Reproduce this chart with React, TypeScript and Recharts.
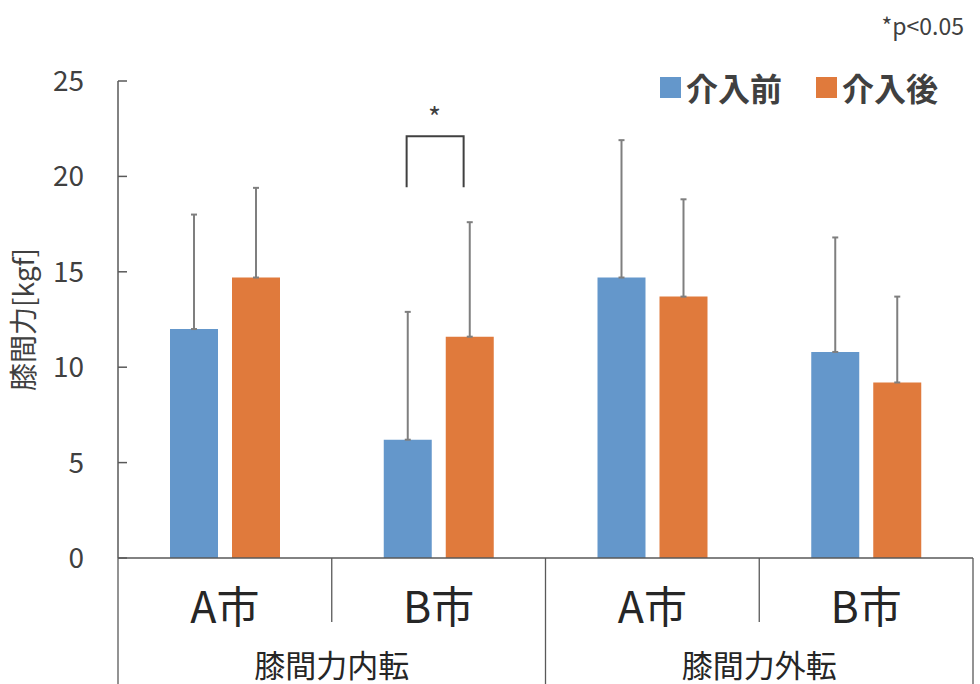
import { Bar, BarChart, ErrorBar, ReferenceDot, XAxis, YAxis } from "recharts";

// 介入前後の膝間力（平均 ± SD）
const CITIES = ["A市", "B市", "A市", "B市"];
const GROUPS = ["膝間力内転", "膝間力内転", "膝間力外転", "膝間力外転"];
const BEFORE = [12.0, 6.2, 14.7, 10.8];
const BEFORE_SD = [6.0, 6.7, 7.2, 6.0];
const AFTER = [14.7, 11.6, 13.7, 9.2];
const AFTER_SD = [4.7, 6.0, 5.1, 4.5];
const Y_TICKS = [0, 5, 10, 15, 20, 25];

// 有意差ブラケット（内転・B市）
const SIG_INDEX = 1;
const SIG_LEVEL = 22.1;

const COLORS = {
  before: "#6497CB",
  after: "#E07A3C",
  err: "#7f7f7f",
  axis: "#595959",
  text: "#404040",
  label: "#262626",
};

const FONT = '"Noto Sans CJK JP", "Noto Sans", sans-serif';

const W = 980;
const H = 684;

const rows = CITIES.map((city, i) => ({
  key: `${GROUPS[i]}-${city}`,
  before: BEFORE[i],
  beforeErr: [0, BEFORE_SD[i]],
  after: AFTER[i],
  afterErr: [0, AFTER_SD[i]],
}));

// 2段の横軸ラベル（地域 / 区分）と区切り線
function CategoryTick(props: any) {
  const { x, y, payload, index } = props;
  const half = payload.offset ?? 0;
  const groupStart = index % 2 === 0;
  const last = index === CITIES.length - 1;
  return (
    <g>
      <line
        x1={x - half}
        x2={x - half}
        y1={y}
        y2={groupStart ? y + 126 : y + 64}
        stroke={COLORS.axis}
        strokeWidth={1.3}
      />
      {last && (
        <line x1={x + half} x2={x + half} y1={y} y2={y + 126} stroke={COLORS.axis} strokeWidth={1.3} />
      )}
      <text
        x={x}
        y={y + 46}
        textAnchor="middle"
        dominantBaseline="central"
        fontSize={43}
        fontFamily={FONT}
        fill={COLORS.label}
      >
        {CITIES[index]}
      </text>
      {groupStart && (
        <text
          x={x + half}
          y={y + 105}
          textAnchor="middle"
          dominantBaseline="central"
          fontSize={31}
          fontFamily={FONT}
          fill={COLORS.label}
        >
          {GROUPS[index]}
        </text>
      )}
    </g>
  );
}

function SigBracket(props: any) {
  const { cx, cy } = props;
  if (cx == null || cy == null) return null;
  return (
    <g>
      <path
        d={`M${cx - 32},${cy + 51} V${cy} H${cx + 25} V${cy + 51}`}
        fill="none"
        stroke="#404040"
        strokeWidth={2}
      />
      <text
        x={cx - 4}
        y={cy - 20}
        textAnchor="middle"
        dominantBaseline="central"
        fontSize={28}
        fontFamily={FONT}
        fill={COLORS.text}
      >
        *
      </text>
    </g>
  );
}

function YTitle(props: any) {
  const { viewBox } = props;
  const cx = viewBox.x + 22;
  const cy = viewBox.y + viewBox.height / 2;
  return (
    <text
      x={cx}
      y={cy}
      transform={`rotate(-90, ${cx}, ${cy})`}
      textAnchor="middle"
      dominantBaseline="central"
      fontSize={28}
      fontFamily={FONT}
      fill={COLORS.text}
    >
      膝間力[kgf]
    </text>
  );
}

const legendItems = [
  { name: "介入前", color: COLORS.before },
  { name: "介入後", color: COLORS.after },
];

export default function App() {
  return (
    <div style={{ position: "relative", width: W, height: H, background: "#fff" }}>
      <style>{`body { margin: 0; }`}</style>
      <BarChart
        width={W}
        height={H}
        data={rows}
        margin={{ top: 81, right: 7, left: 0, bottom: 0 }}
        barSize={48}
        barGap={14}
      >
        <XAxis
          dataKey="key"
          interval={0}
          height={126}
          tickSize={0}
          tickMargin={0}
          tickLine={false}
          axisLine={{ stroke: COLORS.axis, strokeWidth: 1.5 }}
          tick={<CategoryTick />}
        />
        <YAxis
          domain={[0, 25]}
          ticks={Y_TICKS}
          width={118}
          tickSize={-9}
          tickMargin={43}
          axisLine={{ stroke: COLORS.axis, strokeWidth: 1.5 }}
          tickLine={{ stroke: COLORS.axis, strokeWidth: 1.5 }}
          tick={{ fontSize: 28, fontFamily: FONT, fill: COLORS.text }}
          label={<YTitle />}
        />
        <Bar dataKey="before" name="介入前" fill={COLORS.before} isAnimationActive={false}>
          <ErrorBar dataKey="beforeErr" width={3} stroke={COLORS.err} strokeWidth={2} />
        </Bar>
        <Bar dataKey="after" name="介入後" fill={COLORS.after} isAnimationActive={false}>
          <ErrorBar dataKey="afterErr" width={3} stroke={COLORS.err} strokeWidth={2} />
        </Bar>
        <ReferenceDot
          x={rows[SIG_INDEX].key}
          y={SIG_LEVEL}
          ifOverflow="visible"
          shape={<SigBracket />}
        />
      </BarChart>

      <div
        style={{
          position: "absolute",
          top: 8,
          right: 16,
          fontSize: 23,
          fontFamily: FONT,
          color: COLORS.text,
        }}
      >
        *p&lt;0.05
      </div>

      <div
        style={{
          position: "absolute",
          top: 64,
          left: 660,
          display: "flex",
          alignItems: "center",
          fontFamily: FONT,
          fontSize: 32,
          fontWeight: 700,
          color: COLORS.text,
        }}
      >
        {legendItems.map((item, i) => (
          <div
            key={item.name}
            style={{ display: "flex", alignItems: "center", marginRight: i === 0 ? 34 : 0 }}
          >
            <span
              style={{
                display: "inline-block",
                width: 21,
                height: 21,
                background: item.color,
                marginRight: 5,
              }}
            />
            <span>{item.name}</span>
          </div>
        ))}
      </div>
    </div>
  );
}
